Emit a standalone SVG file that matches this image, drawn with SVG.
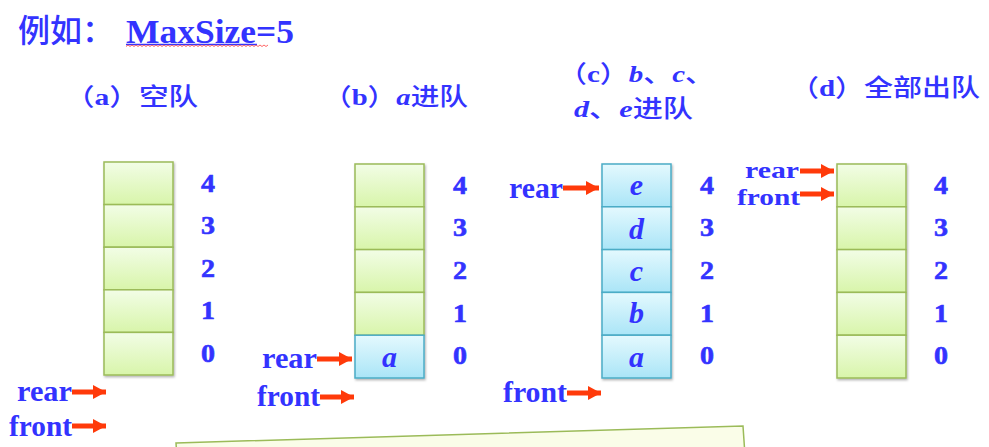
<svg xmlns="http://www.w3.org/2000/svg" width="989" height="447" viewBox="0 0 989 447">
<defs>
<linearGradient id="gG" x1="0" y1="0" x2="0" y2="1"><stop offset="0" stop-color="#f2fde6"/><stop offset="1" stop-color="#d8f5aa"/></linearGradient>
<linearGradient id="gB" x1="0" y1="0" x2="0" y2="1"><stop offset="0" stop-color="#e4f9fe"/><stop offset="1" stop-color="#aae5f7"/></linearGradient>
<filter id="sh" x="-10%" y="-10%" width="130%" height="130%"><feDropShadow dx="1" dy="1.5" stdDeviation="1.2" flood-color="#000" flood-opacity="0.3"/></filter>
<marker id="ah" markerUnits="userSpaceOnUse" markerWidth="14" markerHeight="14" refX="13" refY="7" orient="auto"><path d="M0,0 L13,7 L0,14 Z" fill="#ff3a0a"/></marker>
</defs>
<style>
.cg{fill:url(#gG);stroke:#9bbb59;stroke-width:1.5}
.cb{fill:url(#gB);stroke:#4bacc6;stroke-width:1.5}
.t{fill:#3333ff;font-family:"Liberation Serif","Noto Sans CJK SC",serif;font-weight:bold}
.cj{fill:#3333ff;font-family:"Liberation Serif","Noto Sans CJK SC",serif;font-weight:bold;font-size:24px}
.h{font-family:"Noto Sans CJK SC",sans-serif;font-weight:500}
.n{font-size:26px;text-anchor:middle;stroke:#3333ff;stroke-width:0.6}
.v{font-size:30px;text-anchor:middle;font-style:italic}
.p{font-size:30px}
.q{font-size:24px}
.i{font-style:italic}
.ar{stroke:#ff3a0a;stroke-width:5;fill:none;marker-end:url(#ah)}
</style>
<rect width="989" height="447" fill="#ffffff"/>

<g id="title">
<text class="t h" x="18" y="42" font-size="32">例如：</text>
<text class="t" x="126" y="43" font-size="34" textLength="168" lengthAdjust="spacingAndGlyphs">MaxSize=5</text>
<line x1="126" y1="44.5" x2="257" y2="44.5" stroke="#3333ff" stroke-width="1.5"/>
<path d="M126,46.5 l2,-1.5 l2,1.5 l2,-1.5 l2,1.5 l2,-1.5 l2,1.5 l2,-1.5 l2,1.5 l2,-1.5 l2,1.5 l2,-1.5 l2,1.5 l2,-1.5 l2,1.5 l2,-1.5 l2,1.5 l2,-1.5 l2,1.5 l2,-1.5 l2,1.5 l2,-1.5 l2,1.5 l2,-1.5 l2,1.5 l2,-1.5 l2,1.5 l2,-1.5 l2,1.5 l2,-1.5 l2,1.5 l2,-1.5 l2,1.5 l2,-1.5 l2,1.5 l2,-1.5 l2,1.5 l2,-1.5 l2,1.5 l2,-1.5 l2,1.5 l2,-1.5 l2,1.5 l2,-1.5 l2,1.5 l2,-1.5 l2,1.5 l2,-1.5 l2,1.5 l2,-1.5 l2,1.5 l2,-1.5 l2,1.5 l2,-1.5 l2,1.5 l2,-1.5 l2,1.5 l2,-1.5 l2,1.5 l2,-1.5 l2,1.5 l2,-1.5 l2,1.5 l2,-1.5 l2,1.5 l2,-1.5 l2,1.5 l2,-1.5 l2,1.5 l2,-1.5 l2,1.5 l2,-1.5" fill="none" stroke="#ff5555" stroke-width="0.9"/>
</g>

<g id="col-a">
<text class="cj" x="65" y="105" textLength="133" lengthAdjust="spacingAndGlyphs"><tspan class="h">（</tspan>a<tspan class="h">）空队</tspan></text>
<g filter="url(#sh)">
<rect class="cg" x="104" y="162" width="69" height="42.6"/>
<rect class="cg" x="104" y="204.6" width="69" height="42.6"/>
<rect class="cg" x="104" y="247.2" width="69" height="42.6"/>
<rect class="cg" x="104" y="289.8" width="69" height="42.6"/>
<rect class="cg" x="104" y="332.4" width="69" height="42.6"/>
</g>
<text class="t n" x="208" y="192" textLength="14" lengthAdjust="spacingAndGlyphs">4</text>
<text class="t n" x="208" y="234" textLength="14" lengthAdjust="spacingAndGlyphs">3</text>
<text class="t n" x="208" y="277" textLength="14" lengthAdjust="spacingAndGlyphs">2</text>
<text class="t n" x="208" y="319" textLength="14" lengthAdjust="spacingAndGlyphs">1</text>
<text class="t n" x="208" y="362" textLength="14" lengthAdjust="spacingAndGlyphs">0</text>
<text class="t p" x="17" y="401" textLength="55" lengthAdjust="spacingAndGlyphs">rear</text>
<text class="t p" x="9" y="436" textLength="63" lengthAdjust="spacingAndGlyphs">front</text>
</g>

<g id="col-b">
<text class="cj" x="323" y="105" textLength="145" lengthAdjust="spacingAndGlyphs"><tspan class="h">（</tspan>b<tspan class="h">）</tspan><tspan class="i">a</tspan><tspan class="h">进队</tspan></text>
<g filter="url(#sh)">
<rect class="cg" x="355" y="164" width="69" height="42.8"/>
<rect class="cg" x="355" y="206.8" width="69" height="42.8"/>
<rect class="cg" x="355" y="249.6" width="69" height="42.8"/>
<rect class="cg" x="355" y="292.4" width="69" height="42.8"/>
<rect class="cb" x="355" y="335.2" width="69" height="42.8"/>
</g>
<text class="t v" x="389.5" y="367">a</text>
<text class="t n" x="460" y="194" textLength="14" lengthAdjust="spacingAndGlyphs">4</text>
<text class="t n" x="460" y="236" textLength="14" lengthAdjust="spacingAndGlyphs">3</text>
<text class="t n" x="460" y="279" textLength="14" lengthAdjust="spacingAndGlyphs">2</text>
<text class="t n" x="460" y="322" textLength="14" lengthAdjust="spacingAndGlyphs">1</text>
<text class="t n" x="460" y="364" textLength="14" lengthAdjust="spacingAndGlyphs">0</text>
<text class="t p" x="262" y="368" textLength="55" lengthAdjust="spacingAndGlyphs">rear</text>
<text class="t p" x="257" y="406" textLength="63" lengthAdjust="spacingAndGlyphs">front</text>
</g>

<g id="col-c">
<text class="cj" x="558" y="82" textLength="156" lengthAdjust="spacingAndGlyphs"><tspan class="h">（</tspan>c<tspan class="h">）</tspan><tspan class="i">b</tspan><tspan class="h">、</tspan><tspan class="i">c</tspan><tspan class="h">、</tspan></text>
<text class="cj" x="574" y="117" textLength="119" lengthAdjust="spacingAndGlyphs"><tspan class="i">d</tspan><tspan class="h">、</tspan><tspan class="i">e</tspan><tspan class="h">进队</tspan></text>
<g filter="url(#sh)">
<rect class="cb" x="602" y="164" width="69" height="42.8"/>
<rect class="cb" x="602" y="206.8" width="69" height="42.8"/>
<rect class="cb" x="602" y="249.6" width="69" height="42.8"/>
<rect class="cb" x="602" y="292.4" width="69" height="42.8"/>
<rect class="cb" x="602" y="335.2" width="69" height="42.8"/>
</g>
<text class="t v" x="636.5" y="195">e</text>
<text class="t v" x="636.5" y="239">d</text>
<text class="t v" x="636.5" y="281">c</text>
<text class="t v" x="636.5" y="323">b</text>
<text class="t v" x="636.5" y="367">a</text>
<text class="t n" x="707" y="194" textLength="14" lengthAdjust="spacingAndGlyphs">4</text>
<text class="t n" x="707" y="236" textLength="14" lengthAdjust="spacingAndGlyphs">3</text>
<text class="t n" x="707" y="279" textLength="14" lengthAdjust="spacingAndGlyphs">2</text>
<text class="t n" x="707" y="322" textLength="14" lengthAdjust="spacingAndGlyphs">1</text>
<text class="t n" x="707" y="364" textLength="14" lengthAdjust="spacingAndGlyphs">0</text>
<text class="t p" x="509" y="198" textLength="54" lengthAdjust="spacingAndGlyphs">rear</text>
<text class="t p" x="503" y="402" textLength="64" lengthAdjust="spacingAndGlyphs">front</text>
</g>

<g id="col-d">
<text class="cj" x="790" y="96" textLength="190" lengthAdjust="spacingAndGlyphs"><tspan class="h">（</tspan>d<tspan class="h">）全部出队</tspan></text>
<g filter="url(#sh)">
<rect class="cg" x="837" y="164" width="69" height="42.8"/>
<rect class="cg" x="837" y="206.8" width="69" height="42.8"/>
<rect class="cg" x="837" y="249.6" width="69" height="42.8"/>
<rect class="cg" x="837" y="292.4" width="69" height="42.8"/>
<rect class="cg" x="837" y="335.2" width="69" height="42.8"/>
</g>
<text class="t n" x="941" y="194" textLength="14" lengthAdjust="spacingAndGlyphs">4</text>
<text class="t n" x="941" y="236" textLength="14" lengthAdjust="spacingAndGlyphs">3</text>
<text class="t n" x="941" y="279" textLength="14" lengthAdjust="spacingAndGlyphs">2</text>
<text class="t n" x="941" y="322" textLength="14" lengthAdjust="spacingAndGlyphs">1</text>
<text class="t n" x="941" y="364" textLength="14" lengthAdjust="spacingAndGlyphs">0</text>
<text class="t q" x="745" y="178" textLength="54" lengthAdjust="spacingAndGlyphs">rear</text>
<text class="t q" x="737" y="205" textLength="63" lengthAdjust="spacingAndGlyphs">front</text>
</g>

<g id="connectors">
<line class="ar" x1="72" y1="392" x2="106" y2="392"/>
<line class="ar" x1="72" y1="426" x2="106" y2="426"/>
<line class="ar" x1="317" y1="359" x2="352" y2="359"/>
<line class="ar" x1="320" y1="397" x2="354" y2="397"/>
<line class="ar" x1="563" y1="188" x2="599" y2="188"/>
<line class="ar" x1="567" y1="393" x2="601" y2="393"/>
<line class="ar" x1="800" y1="171" x2="834" y2="171"/>
<line class="ar" x1="800" y1="194" x2="834" y2="194"/>
</g>

<g id="note">
<polygon points="176,443 743,426 746,470 179,487" fill="#fafde8" stroke="#9bbb59" stroke-width="1.5"/>
</g>
</svg>
